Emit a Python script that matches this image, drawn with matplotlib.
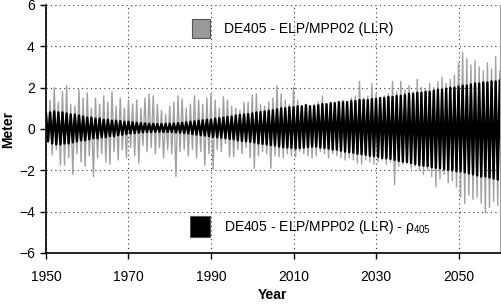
import numpy as np
import matplotlib
matplotlib.use("Agg")
from matplotlib import pyplot as plt
from matplotlib.patches import Rectangle

plt.rcParams['font.family'] = ['Liberation Sans', 'DejaVu Sans']
plt.rcParams['mathtext.fontset'] = 'custom'
plt.rcParams['mathtext.rm'] = 'Liberation Sans'
plt.rcParams['mathtext.it'] = 'Liberation Sans'

# one sample per year
years = np.arange(1950, 2061)

# DE405 - ELP/MPP02 (LLR): spike tops / bottoms
gray_hi = [0.85, 1.4, 2.0, 1.3, 1.8, 2.1, 1.2, 1.1, 1.9, 1.5,
           1.75, 1.0, 1.5, 1.2, 1.6, 1.3, 1.8, 1.1, 1.5, 1.0,
           1.4, 1.2, 1.4, 1.0, 1.5, 1.7, 1.6, 1.2, 0.9, 0.7,
           1.1, 1.3, 1.6, 1.45, 1.0, 1.2, 1.6, 1.4, 1.2, 1.5,
           1.7, 1.4, 1.0, 1.55, 1.4, 1.1, 1.0, 0.9, 1.3, 1.3,
           1.65, 1.7, 1.2, 1.1, 1.3, 1.5, 2.1, 1.7, 1.4, 1.2,
           2.0, 1.4, 1.1, 1.2, 1.0, 1.2, 1.3, 1.6, 1.2, 1.1,
           1.3, 1.2, 1.4, 1.3, 1.5, 1.6, 2.3, 1.5, 1.6, 2.2,
           1.7, 1.5, 1.6, 1.7, 2.3, 1.8, 2.3, 1.9, 2.1, 1.8,
           2.4, 2.0, 1.9, 2.2, 2.0, 2.3, 2.5, 2.2, 2.4, 2.6,
           3.2, 3.7, 3.4, 3.1, 3.3, 3.0, 2.8, 3.2, 2.9, 3.5, 2.8]
gray_lo = [-0.6, -1.25, -1.0, -1.75, -1.75, -1.4, -2.2, -1.2, -1.6, -1.8,
           -1.3, -2.3, -1.4, -1.2, -1.6, -1.7, -1.1, -1.5, -1.0, -1.4,
           -0.9, -1.3, -1.65, -0.8, -1.1, -0.9, -1.2, -0.9, -1.4, -1.0,
           -1.2, -2.3, -1.1, -1.0, -1.3, -1.0, -1.4, -1.1, -1.75, -1.2,
           -1.95, -1.0, -1.1, -0.7, -1.35, -1.35, -1.0, -1.2, -0.9, -1.4,
           -1.9, -1.3, -1.1, -1.2, -1.9, -1.3, -1.35, -1.4, -1.2, -1.3,
           -1.35, -1.1, -1.2, -1.3, -1.4, -1.3, -1.1, -1.2, -1.4, -1.2,
           -1.3, -1.4, -1.5, -1.4, -1.5, -1.65, -1.7, -1.5, -1.6, -1.7,
           -1.6, -1.5, -1.7, -1.6, -2.7, -1.8, -1.7, -1.65, -1.9, -1.8,
           -2.0, -2.2, -2.0, -2.3, -2.8, -2.4, -2.2, -2.6, -2.5, -2.8,
           -3.3, -3.6, -3.2, -3.4, -3.3, -3.6, -4.05, -3.8, -3.5, -3.7, -3.4]

# DE405 - ELP/MPP02 (LLR) - rho405: band top / bottom
black_hi = [0.75, 0.8, 0.85, 0.8, 0.8, 0.75, 0.7, 0.7, 0.65, 0.6,
            0.55, 0.55, 0.5, 0.5, 0.45, 0.45, 0.4, 0.4, 0.38, 0.35,
            0.35, 0.32, 0.3, 0.28, 0.27, 0.25, 0.25, 0.24, 0.24, 0.25,
            0.25, 0.26, 0.28, 0.3, 0.32, 0.35, 0.37, 0.4, 0.42, 0.45,
            0.45, 0.5, 0.52, 0.55, 0.58, 0.6, 0.65, 0.68, 0.7, 0.72,
            0.75, 0.8, 0.82, 0.85, 0.88, 0.9, 0.95, 1.0, 1.0, 1.05,
            1.05, 1.1, 1.1, 1.15, 1.1, 1.1, 1.15, 1.2, 1.2, 1.25,
            1.25, 1.3, 1.3, 1.3, 1.35, 1.35, 1.4, 1.4, 1.4, 1.45,
            1.45, 1.5, 1.5, 1.55, 1.55, 1.6, 1.6, 1.65, 1.7, 1.7,
            1.75, 1.75, 1.8, 1.8, 1.85, 1.9, 1.9, 1.95, 2.0, 2.0,
            2.05, 2.1, 2.1, 2.15, 2.2, 2.2, 2.25, 2.25, 2.3, 2.3, 2.35]
black_lo = [-0.6, -0.7, -0.75, -0.75, -0.7, -0.7, -0.65, -0.6, -0.55, -0.55,
            -0.5, -0.45, -0.45, -0.4, -0.4, -0.35, -0.35, -0.3, -0.28, -0.25,
            -0.22, -0.2, -0.18, -0.16, -0.15, -0.15, -0.14, -0.14, -0.15, -0.15,
            -0.15, -0.17, -0.18, -0.2, -0.22, -0.25, -0.27, -0.3, -0.32, -0.35,
            -0.38, -0.4, -0.42, -0.45, -0.48, -0.5, -0.55, -0.58, -0.6, -0.62,
            -0.65, -0.7, -0.72, -0.75, -0.78, -0.8, -0.85, -0.88, -0.9, -0.92,
            -0.95, -0.92, -0.9, -0.88, -0.85, -0.85, -0.9, -0.92, -0.95, -1.0,
            -1.0, -1.05, -1.1, -1.12, -1.15, -1.2, -1.22, -1.25, -1.3, -1.32,
            -1.35, -1.4, -1.42, -1.45, -1.5, -1.55, -1.58, -1.6, -1.65, -1.7,
            -1.75, -1.78, -1.8, -1.85, -1.88, -1.9, -1.95, -1.98, -2.0, -2.05,
            -2.05, -2.1, -2.15, -2.2, -2.25, -2.3, -2.3, -2.35, -2.4, -2.45, -2.45]

label_gray = 'DE405 - ELP/MPP02 (LLR)'
label_black = r'DE405 - ELP/MPP02 (LLR) - $\rho_{405}$'


def zigzag(hi, lo):
    # alternate top and bottom of each year, half a year apart
    t = np.column_stack([years, years + 0.5]).ravel()
    v = np.column_stack([hi, lo]).ravel()
    return t, v


fig = plt.figure(figsize=(5.02, 3.04), dpi=100)
ax = fig.add_axes([0.0916, 0.1678, 0.904, 0.816])

t, v = zigzag(gray_hi, gray_lo)
ax.plot(t, v, color='#a0a0a0', lw=1.0, zorder=2)
t, v = zigzag(black_hi, black_lo)
ax.plot(t, v, color='black', lw=1.7, zorder=3)

ax.set_xlim(1950, 2060)
ax.set_ylim(-6, 6)
ax.set_xticks(range(1950, 2061, 20))
ax.set_yticks(range(-6, 7, 2))
ax.grid(True, color='#333333', linestyle=(0, (1, 3)), lw=0.8)
ax.tick_params(direction='out', length=4, width=1, labelsize=10, color='black')
ax.tick_params(axis='x', pad=8)
ax.tick_params(axis='y', pad=4)
ax.spines['top'].set_visible(False)
ax.spines['right'].set_color('#a0a0a0')
ax.spines['left'].set_linewidth(1.2)
ax.spines['bottom'].set_linewidth(1.2)
ax.set_axisbelow(True)

ax.set_xlabel('Year', fontsize=10, fontweight='bold', labelpad=3)
ax.set_ylabel('Meter', fontsize=10, fontweight='bold')
ax.yaxis.set_label_coords(-0.068, 0.5)

ax.add_patch(Rectangle((0.3216, 0.867), 0.04, 0.077, transform=ax.transAxes,
                       facecolor='#999999', edgecolor='#555555', lw=0.8, zorder=5))
ax.text(0.392, 0.903, label_gray, transform=ax.transAxes, fontsize=10,
        va='center', ha='left', zorder=5)
ax.add_patch(Rectangle((0.317, 0.0645), 0.044, 0.085, transform=ax.transAxes,
                       facecolor='black', edgecolor='#555555', lw=0.8, zorder=5))
ax.text(0.392, 0.105, label_black, transform=ax.transAxes, fontsize=10,
        va='center', ha='left', zorder=5)

fig.savefig('out.png', dpi=100)
